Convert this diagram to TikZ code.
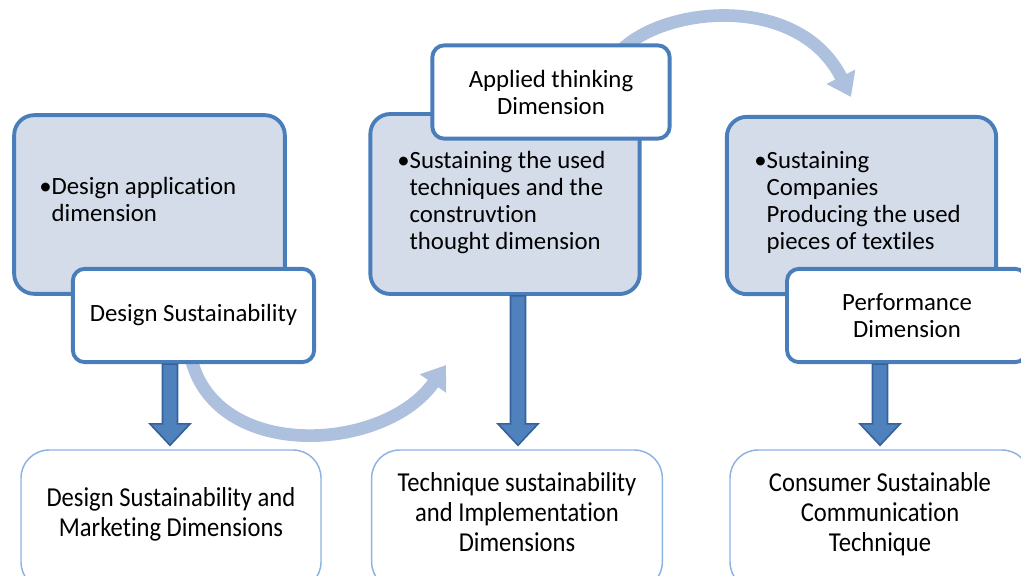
\documentclass[tikz,border=0pt]{standalone}
\usepackage{fontspec}
\setmainfont{Carlito}[Ligatures=NoCommon]
\newfontfamily\narrowfont{Carlito}[FakeStretch=0.9,Ligatures=NoCommon]
\usetikzlibrary{arrows.meta,calc}

\definecolor{rimblue}{HTML}{4A7EBB}
\definecolor{paleblue}{HTML}{D4DCE9}
\definecolor{shaftblue}{HTML}{4F81BD}
\definecolor{shaftedge}{HTML}{35629B}
\definecolor{curveblue}{HTML}{ADC1DE}
\definecolor{thinblue}{HTML}{8DB3E2}

\pgfdeclarelayer{arcs}
\pgfsetlayers{arcs,main}

% thick block arrow pointing down, from one node to the next
\newcommand\blockdown[2]{%
  \draw[downarrow] let \p1=(#1), \p2=(#2) in
    (\x2-5.6pt,\y1) -- (\x2-5.6pt,\y2+16pt) -- (\x2-15pt,\y2+16pt) -- (\x2,\y2)
    -- (\x2+15pt,\y2+16pt) -- (\x2+5.6pt,\y2+16pt) -- (\x2+5.6pt,\y1) -- cycle;}
% centred lines of the lower boxes, lifted a little
\newcommand\outlines[1]{\raisebox{3.6pt}[\height][\depth]{%
  \begin{tabular}{@{}c@{}}#1\end{tabular}}}

\begin{document}
\begin{tikzpicture}[x=0.75pt,y=-0.75pt,
    bluebox/.style={draw=rimblue,line width=2.9pt,fill=paleblue,rounded corners=15pt},
    labelbox/.style={draw=rimblue,line width=2.9pt,fill=white,rounded corners=9pt,
      align=center,font=\fontsize{18.6}{20.25}\selectfont},
    outbox/.style={draw=thinblue,line width=1.1pt,fill=white,rounded corners=21pt,
      font=\narrowfont\fontsize{20.5}{22.5}\selectfont},
    bullets/.style={anchor=north west,inner sep=0pt,font=\fontsize{18.6}{20.25}\selectfont},
    downarrow/.style={draw=shaftedge,line width=1.2pt,fill=shaftblue},
    curvearrow/.style={draw=curveblue,line width=9.5pt,
      -{Triangle[length=17pt,width=23pt]}}]

  \useasboundingbox (0,0) rectangle (1021,575);
  \clip (0,0) rectangle (1021,575);

  % upper boxes
  \node[bluebox,minimum width=203pt,minimum height=134pt] (ba) at (149.5,204.5) {};
  \node[bluebox,minimum width=202pt,minimum height=135pt] (bb) at (505,204) {};
  \node[bluebox,minimum width=202pt,minimum height=133pt] (bc) at (861.5,205.5) {};

  \node[bullets] (ta) at (39,175) {\begin{tabular}{@{}l@{}l@{}}
    \textbullet & Design application\\ & dimension\end{tabular}};
  \node[bullets] (tb) at (397,149) {\begin{tabular}{@{}l@{}l@{}}
    \textbullet & Sustaining the used\\ & techniques and the\\
    & construvtion\\ & thought dimension\end{tabular}};
  \node[bullets] (tc) at (754,149) {\begin{tabular}{@{}l@{}l@{}}
    \textbullet & Sustaining\\ & Companies\\
    & Producing the used\\ & pieces of textiles\end{tabular}};

  % bottom boxes
  \node[outbox,minimum width=225pt,minimum height=105pt] (oa) at (171,520)
    {\outlines{Design Sustainability and\\Marketing Dimensions}};
  \node[outbox,minimum width=218pt,minimum height=105pt] (ob) at (517,520)
    {\outlines{Technique sustainability\\and Implementation\\Dimensions}};
  \node[outbox,minimum width=225pt,minimum height=105pt] (oc) at (880,520)
    {\outlines{Consumer Sustainable\\Communication\\Technique}};

  % label boxes
  \node[labelbox,minimum width=181pt,minimum height=70pt] (la) at (193.5,315.5)
    {Design Sustainability};
  \node[labelbox,minimum width=178pt,minimum height=70pt] (lb) at (551,92)
    {Applied thinking\\Dimension};
  \node[labelbox,minimum width=180pt,minimum height=70pt] (lc) at (907,315.5)
    {Performance\\Dimension};

  % curved arrows, kept behind the boxes
  \coordinate (tipa) at (446,365);
  \coordinate (tipb) at (851,97);
  \begin{pgfonlayer}{arcs}
    \draw[curvearrow] ($(la.south)+(-2,-4)$) .. controls (218,462) and (385,452) .. (tipa);
    \draw[curvearrow] ($(lb.north)+(72,5)$) .. controls (670,5) and (800,-5) .. (tipb);
  \end{pgfonlayer}

  \blockdown{la.south}{$(oa.north)+(-1,-4)$}
  \blockdown{bb.south}{$(ob.north)+(1,-4)$}
  \blockdown{lc.south}{$(oc.north)+(0,-4)$}
\end{tikzpicture}
\end{document}
